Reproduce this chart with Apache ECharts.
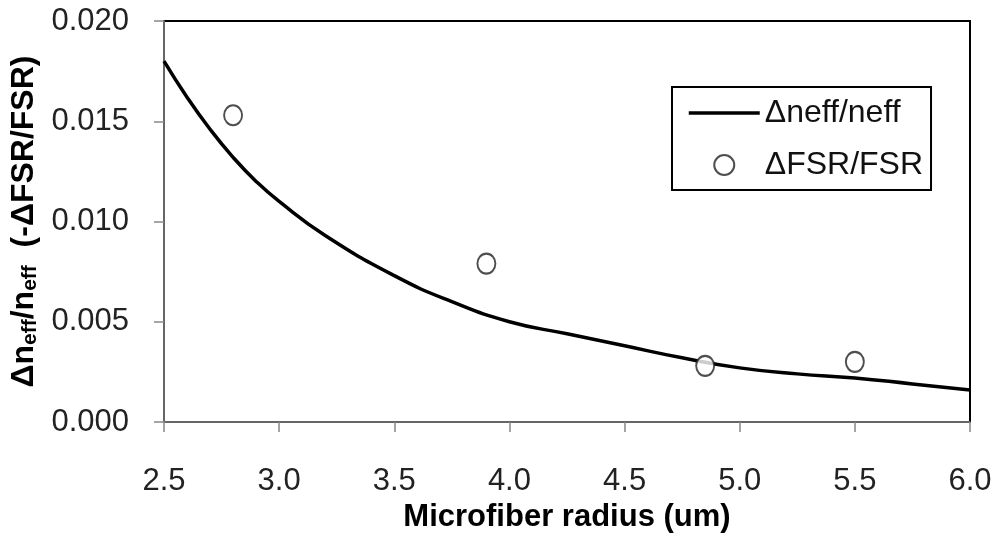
<!DOCTYPE html>
<html>
<head>
<meta charset="utf-8">
<script src="https://cdn.jsdelivr.net/npm/echarts@6/dist/echarts.min.js"></script>
<style>html,body{margin:0;padding:0;background:#fff}#c{width:1000px;height:543px}</style>
</head>
<body>
<div id="c"></div>
<script>
const curveX = [2.5, 2.6, 2.7, 2.8, 2.9, 3.0, 3.2, 3.5, 3.75, 4.0, 4.25, 4.5, 4.75, 5.0, 5.25, 5.5, 5.75, 6.0];
const curveY = [0.0180, 0.0162, 0.0146, 0.0132, 0.0120, 0.0110, 0.0093, 0.0073, 0.0060, 0.0050, 0.0044, 0.0038, 0.0032, 0.0027, 0.0024, 0.0022, 0.0019, 0.0016];
const pointX = [2.8, 3.9, 4.85, 5.5];
const pointY = [0.0153, 0.0079, 0.0028, 0.0030];
const lineName = 'Δneff/neff';
const pointName = 'ΔFSR/FSR';

const font = '"Liberation Sans", Arial, sans-serif';
const chart = echarts.init(document.getElementById('c'));
chart.setOption({
  animation: false,
  backgroundColor: '#fff',
  grid: { left: 164, right: 30, top: 21, bottom: 121, show: true, borderColor: '#000', borderWidth: 2 },
  legend: {
    orient: 'vertical', left: 672, top: 87,
    borderColor: '#000', borderWidth: 2,
    padding: [10, 8, 9, 15],
    itemWidth: 71, itemHeight: 20, itemGap: 20,
    textStyle: { fontFamily: font, fontSize: 32, color: '#111' },
    data: [
      { name: lineName, itemStyle: { color: 'rgba(0,0,0,0)', borderWidth: 0 }, lineStyle: { width: 3.5, color: '#000' } },
      { name: pointName, itemStyle: { color: '#222', borderColor: '#222', borderWidth: 1.3 } }
    ]
  },
  xAxis: {
    type: 'value', min: 2.5, max: 6.0, interval: 0.5,
    name: 'Microfiber radius (um)', nameLocation: 'middle', nameGap: 75,
    nameTextStyle: { fontFamily: font, fontSize: 31, fontWeight: 'bold', color: '#000' },
    axisLine: { lineStyle: { color: '#888', width: 1.5 } },
    axisTick: { inside: false, length: 10, lineStyle: { color: '#888', width: 1.5 } },
    axisLabel: { margin: 44, fontFamily: font, fontSize: 31, color: '#222', formatter: v => v.toFixed(1) },
    splitLine: { show: false }
  },
  yAxis: {
    type: 'value', min: 0, max: 0.02, interval: 0.005,
    name: 'Δn{s|eff}/n{s|eff}  (-ΔFSR/FSR)', nameLocation: 'middle', nameGap: 120,
    nameTextStyle: {
      fontFamily: font, fontSize: 32, fontWeight: 'bold', color: '#000',
      rich: { s: { fontFamily: font, fontSize: 21, fontWeight: 'bold', color: '#000', padding: [12, 0, 0, 0] } }
    },
    axisLine: { show: true, lineStyle: { color: '#888', width: 1.5 } },
    axisTick: { show: true, length: 10, lineStyle: { color: '#888', width: 1.5 } },
    axisLabel: { margin: 35, fontFamily: font, fontSize: 31, color: '#222', formatter: v => v.toFixed(3) },
    splitLine: { show: false }
  },
  series: [
    {
      name: lineName, type: 'line', smooth: true, symbol: 'none',
      lineStyle: { color: '#000', width: 3.5 },
      data: curveX.map((x, i) => [x, curveY[i]]), z: 3
    },
    {
      name: pointName, type: 'scatter', symbol: 'emptyCircle', symbolSize: [18, 20],
      itemStyle: { color: '#222', borderWidth: 1.3 },
      data: pointX.map((x, i) => [x, pointY[i]]), z: 4
    }
  ]
});
</script>
</body>
</html>
